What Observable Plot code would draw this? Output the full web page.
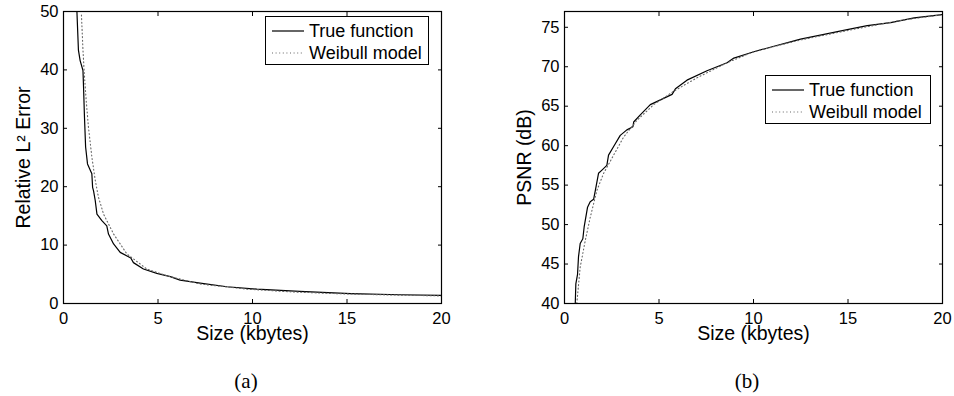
<!DOCTYPE html>
<html>
<head>
<meta charset="utf-8">
<script src="https://cdn.jsdelivr.net/npm/d3@7"></script>
<script src="https://cdn.jsdelivr.net/npm/@observablehq/plot@0.6"></script>
<style>
  body { margin: 0; background: #fff; }
  #wrap { position: relative; width: 954px; height: 396px; overflow: hidden; background: #fff; }
  .panel { position: absolute; top: 0; }
  .panel g[aria-label$="tick label"], .panel g[aria-label$="tick label"] text { font-size: 16.5px !important; }
  .legend { position: absolute; border: 1px solid #000; background: #fff; box-sizing: border-box;
            font-family: "Liberation Sans", Arial, sans-serif; font-size: 18px; color: #000; }
  .legend .row { position: absolute; left: 0; height: 22px; line-height: 22px; white-space: nowrap; }
  .legend svg { position: absolute; top: 0; }
  .legend span { position: absolute; }
  .caption { position: absolute; font-family: "Liberation Serif", "Times New Roman", serif; font-size: 21px;
             transform: translate(-50%, -50%); color: #000; }
</style>
</head>
<body>
<div id="wrap"></div>
<script>
// ---- data ----
const xTicks = [0, 5, 10, 15, 20];
const yTicksA = [0, 10, 20, 30, 40, 50];
const yTicksB = [40, 45, 50, 55, 60, 65, 70, 75];
const seriesNames = ["True function", "Weibull model"];
const panelLabels = ["(a)", "(b)"];
const xLabel = "Size (kbytes)";
const yLabelA = "Relative L\u00B2 Error";
const yLabelB = "PSNR (dB)";

// Panel (a): relative L2 error vs size
const trueAx = [0.71, 0.79, 0.88, 1.03, 1.06, 1.11, 1.17, 1.27, 1.50, 1.54, 1.59, 1.68, 1.77, 2.03, 2.29, 2.38, 2.65, 3.0, 3.56, 3.70, 4.23, 4.94, 5.65, 6.17, 7.23, 8.65, 10.23, 12.5, 15.2, 17.8, 20];
const trueAy = [50, 43.4, 41.6, 39.9, 37.1, 31.9, 26.8, 23.9, 22.2, 19.9, 19.3, 17.6, 15.3, 14.2, 13.3, 11.9, 10.2, 8.75, 7.8, 7.0, 5.9, 5.15, 4.6, 4.0, 3.5, 2.87, 2.46, 2.06, 1.7, 1.5, 1.4];
const weibAx = [0.95, 1.03, 1.10, 1.20, 1.32, 1.50, 1.68, 1.85, 2.12, 2.65, 3.35, 4.41, 5.47, 7.23, 9.7, 12.0, 14.3, 17.0, 20];
const weibAy = [49.4, 43.4, 39.4, 34.8, 30.2, 25.1, 21.1, 18.2, 15.3, 11.9, 8.5, 5.9, 4.75, 3.33, 2.46, 2.0, 1.7, 1.48, 1.3];

// Panel (b): PSNR vs size
const trueBx = [0.57, 0.60, 0.69, 0.74, 0.83, 0.97, 1.04, 1.22, 1.36, 1.54, 1.63, 1.80, 1.98, 2.24, 2.33, 2.60, 2.95, 3.30, 3.62, 3.66, 4.01, 4.54, 5.16, 5.69, 5.87, 6.48, 7.54, 8.60, 8.96, 10.02, 11.08, 12.49, 13.73, 14.96, 16.02, 17.26, 18.5, 20];
const trueBy = [40, 42.5, 43.7, 45.9, 47.6, 48.2, 49.7, 52.2, 52.9, 53.2, 54.3, 56.5, 56.9, 57.5, 58.8, 59.9, 61.3, 62.0, 62.4, 63.0, 63.9, 65.2, 65.9, 66.5, 67.2, 68.3, 69.5, 70.5, 71.1, 71.9, 72.6, 73.5, 74.1, 74.7, 75.2, 75.6, 76.2, 76.6];
const weibBx = [0.65, 0.83, 1.10, 1.36, 1.71, 2.07, 2.60, 3.13, 3.83, 4.72, 5.78, 7.01, 8.60, 10.0, 12.5, 15.0, 17.6, 20];
const weibBy = [40, 44.6, 48.0, 50.9, 54.3, 56.5, 58.8, 61.1, 63.2, 65.2, 66.9, 68.6, 70.5, 71.9, 73.4, 74.6, 75.8, 76.6];

const zip = (xs, ys) => xs.map((x, i) => ({x, y: ys[i]}));

const FONT = "'Liberation Sans', Arial, Helvetica, sans-serif";
const TRUE_STYLE = {stroke: "#000", strokeWidth: 1.2};
const WEIB_STYLE = {stroke: "#666", strokeWidth: 1.1, strokeDasharray: "1,2.6"};

function makePanel({yDomain, yTicks, yLabel, trueData, weibData, marginLeft, marginRight, yLabelDx}) {
  const tickLen = -4;
  return Plot.plot({
    width: 477,
    height: 350,
    marginLeft,
    marginRight,
    marginTop: 11,
    marginBottom: 47,
    style: {fontFamily: FONT, fontSize: "16.5px", background: "#fff", color: "#000", overflow: "visible"},
    x: {domain: [0, 20]},
    y: {domain: yDomain},
    marks: [
      Plot.line(trueData, {x: "x", y: "y", ...TRUE_STYLE, clip: true}),
      Plot.line(weibData, {x: "x", y: "y", ...WEIB_STYLE, clip: true}),
      Plot.frame({stroke: "#000", strokeWidth: 1.2}),
      Plot.axisX({anchor: "bottom", ticks: xTicks, tickSize: tickLen, tickPadding: 9 - tickLen, label: null}),
      Plot.axisX({anchor: "top", ticks: xTicks, tickSize: tickLen, tickFormat: () => "", label: null}),
      Plot.axisY({anchor: "left", ticks: yTicks, tickSize: tickLen, tickPadding: 5 - tickLen, label: null}),
      Plot.axisY({anchor: "right", ticks: yTicks, tickSize: tickLen, tickFormat: () => "", label: null}),
      Plot.text([xLabel], {frameAnchor: "bottom", dy: 30.5, fontSize: 19.5, lineAnchor: "middle", textAnchor: "middle"}),
      Plot.text([yLabel], {frameAnchor: "left", dx: yLabelDx, rotate: -90, fontSize: 19.5, lineAnchor: "middle", textAnchor: "middle"})
    ]
  });
}

const wrap = document.getElementById("wrap");

const pa = makePanel({
  yDomain: [0, 50], yTicks: yTicksA, yLabel: yLabelA,
  trueData: zip(trueAx, trueAy), weibData: zip(weibAx, weibAy),
  marginLeft: 63, marginRight: 36, yLabelDx: -40
});
pa.classList.add("panel"); pa.style.left = "0px";
wrap.appendChild(pa);

const pb = makePanel({
  yDomain: [40, 77], yTicks: yTicksB, yLabel: yLabelB,
  trueData: zip(trueBx, trueBy), weibData: zip(weibBx, weibBy),
  marginLeft: 87, marginRight: 12, yLabelDx: -39.5
});
pb.classList.add("panel"); pb.style.left = "477px";
wrap.appendChild(pb);

function legend(left, top, width, height) {
  const box = document.createElement("div");
  box.className = "legend";
  Object.assign(box.style, {left: left + "px", top: top + "px", width: width + "px", height: height + "px"});
  const styles = [TRUE_STYLE, WEIB_STYLE];
  seriesNames.forEach((name, i) => {
    const row = document.createElement("div");
    row.className = "row";
    row.style.top = (3 + i * 22) + "px";
    row.style.width = width + "px";
    const s = styles[i];
    row.innerHTML = `<svg width="40" height="22" style="left:6px"><line x1="0" x2="32" y1="11" y2="11" stroke="${s.stroke}" stroke-width="${s.strokeWidth}" ${s.strokeDasharray ? `stroke-dasharray="${s.strokeDasharray}"` : ""}/></svg><span style="left:43px">${name}</span>`;
    box.appendChild(row);
  });
  wrap.appendChild(box);
}
legend(265, 16, 164, 49);
legend(765, 75, 166, 49);

[[panelLabels[0], 246], [panelLabels[1], 747]].forEach(([t, x]) => {
  const c = document.createElement("div");
  c.className = "caption";
  c.textContent = t;
  c.style.left = x + "px";
  c.style.top = "381px";
  wrap.appendChild(c);
});
</script>
</body>
</html>
